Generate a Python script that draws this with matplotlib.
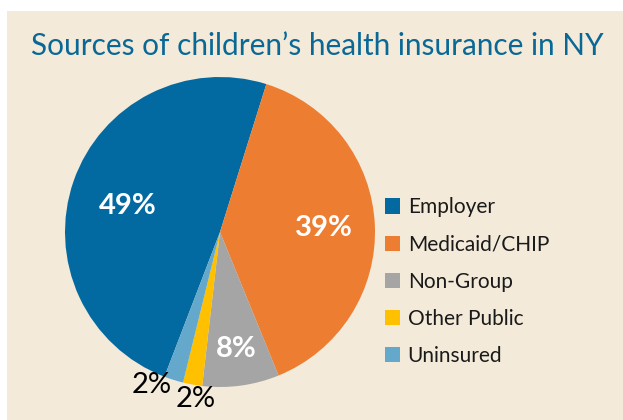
import numpy as np
import matplotlib.pyplot as plt
from matplotlib.patches import Rectangle, Patch

categories = ["Employer", "Medicaid/CHIP", "Non-Group", "Other Public", "Uninsured"]
shares = [49, 39, 8, 2, 2]
colors = ["#036aa1", "#ed7d31", "#a5a5a5", "#ffc000", "#64a8cc"]

# label placement: distance from centre, angle tweak (deg), colour, weight
lab_r = [0.62, 0.67, 0.76, 1.09, 1.08]
lab_da = [3.4, 0, 0, 2, -6.5]
lab_col = ["white", "white", "white", "black", "black"]
lab_w = ["bold", "bold", "bold", "normal", "normal"]

plt.rcParams['font.family'] = ['Lato', 'DejaVu Sans']

fig = plt.figure(figsize=(6.23, 4.2), dpi=100, facecolor="white")
fig.patches.append(Rectangle((7 / 623, 0), 1, (420 - 11) / 420, transform=fig.transFigure,
                             facecolor="#f3ead9", edgecolor="none", zorder=-10))

fig.text(317 / 623, 1 - 46 / 420, "Sources of children\u2019s health insurance in NY",
         ha="center", va="center", fontsize=21.4, color="#0a6897")

ax = fig.add_axes([(220 - 155) / 623, (188 - 155) / 420, 310 / 623, 310 / 420])
wedges, _ = ax.pie(shares, colors=colors, startangle=-111, counterclock=False,
                   radius=1, wedgeprops=dict(linewidth=0))
ax.set_xlim(-1, 1)
ax.set_ylim(-1, 1)
ax.set_aspect("auto")
ax.axis("off")

for w, s, r, da, c, fw in zip(wedges, shares, lab_r, lab_da, lab_col, lab_w):
    ang = np.deg2rad((w.theta1 + w.theta2) / 2 + da)
    ax.text(r * np.cos(ang), r * np.sin(ang), f"{s}%", ha="center", va="center",
            fontsize=21, color=c, fontweight=fw, clip_on=False)

handles = [Patch(facecolor=c, edgecolor="none") for c in colors]
fig.legend(handles, categories, loc="center left", bbox_to_anchor=(366 / 623, 1 - 281.5 / 420),
           frameon=False, fontsize=15, handlelength=0.75, handleheight=0.75,
           handletextpad=0.35, labelspacing=0.82, labelcolor="#1a1a1a")

fig.savefig("out.png", dpi=100, facecolor=fig.get_facecolor())
